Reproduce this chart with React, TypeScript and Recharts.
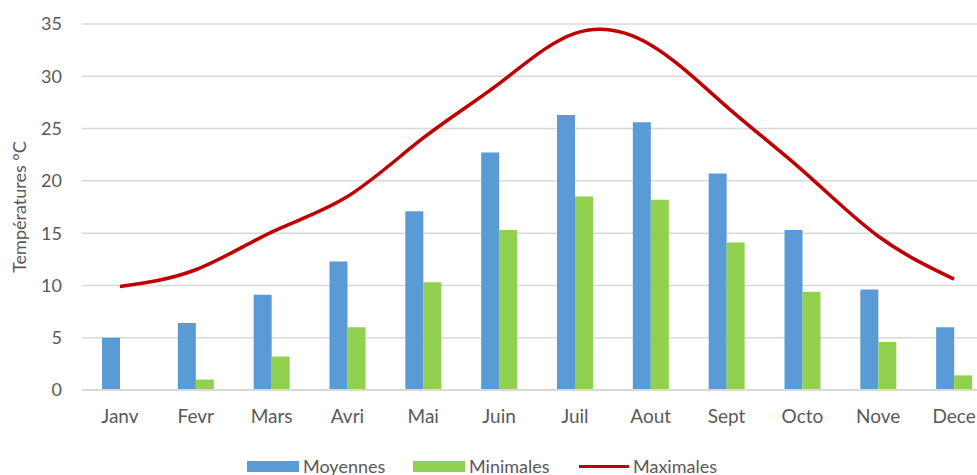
import {
  ComposedChart,
  Bar,
  Line,
  XAxis,
  YAxis,
  CartesianGrid,
  Legend
} from 'recharts'

const months = ['Janv', 'Fevr', 'Mars', 'Avri', 'Mai', 'Juin', 'Juil', 'Aout', 'Sept', 'Octo', 'Nove', 'Dece']
const moyennes = [5.0, 6.4, 9.1, 12.3, 17.1, 22.7, 26.3, 25.6, 20.7, 15.3, 9.6, 6.0]
const minimales = [0, 1.0, 3.2, 6.0, 10.3, 15.3, 18.5, 18.2, 14.1, 9.4, 4.6, 1.4]
const maximales = [9.9, 11.5, 15.1, 18.5, 24.1, 29.3, 34.1, 33.0, 27.1, 21.0, 14.7, 10.6]
const yTicks = [0, 5, 10, 15, 20, 25, 30, 35]

const FONT = 'Lato, "Liberation Sans", sans-serif'
const TEXT = '#595959'

const data = months.map((m, i) => ({
  month: m,
  moy: moyennes[i],
  min: minimales[i],
  max: maximales[i]
}))

const legendItems = [
  { label: 'Moyennes', color: '#5b9bd5', kind: 'rect' },
  { label: 'Minimales', color: '#92d050', kind: 'rect' },
  { label: 'Maximales', color: '#c00000', kind: 'line' }
]

function ChartLegend() {
  return (
    <div style={{ display: 'flex', paddingTop: 35, fontFamily: FONT, fontSize: 18, color: TEXT }}>
      {legendItems.map(item => (
        <div key={item.label} style={{ display: 'flex', alignItems: 'center', width: 166 }}>
          <span
            style={{
              display: 'inline-block',
              width: item.kind === 'rect' ? 52 : 50,
              height: item.kind === 'rect' ? 11 : 3,
              background: item.color,
              marginRight: 4
            }}
          />
          <span>{item.label}</span>
        </div>
      ))}
    </div>
  )
}

export default function App() {
  return (
    <div style={{ position: 'absolute', left: 0, top: 0, width: 977, height: 475, overflow: 'hidden', background: '#fff' }}>
      <ComposedChart
        width={1000}
        height={490}
        data={data}
        margin={{ top: 24, right: 8, left: 0, bottom: 10 }}
        barGap={0}
      >
        <CartesianGrid vertical={false} stroke="#d9d9d9" strokeWidth={1.5} />
        <XAxis
          dataKey="month"
          height={30}
          axisLine={{ stroke: '#d9d9d9', strokeWidth: 2 }}
          tickLine={false}
          tickSize={0}
          tickMargin={20}
          tick={{ fill: TEXT, fontSize: 19, fontFamily: FONT }}
          interval={0}
        />
        <YAxis
          width={82}
          domain={[0, 35]}
          ticks={yTicks}
          axisLine={false}
          tickLine={false}
          tickSize={0}
          tickMargin={20}
          tick={{ fill: TEXT, fontSize: 18, fontFamily: FONT }}
          label={{
            value: 'Températures °C',
            angle: -90,
            position: 'center',
            dx: -21,
            style: { fill: TEXT, fontSize: 18, fontFamily: FONT }
          }}
        />
        <Legend
          verticalAlign="bottom"
          height={60}
          wrapperStyle={{ left: 247, width: 'auto' }}
          content={() => <ChartLegend />}
        />
        <Bar dataKey="moy" name="Moyennes" fill="#5b9bd5" barSize={18} isAnimationActive={false} />
        <Bar dataKey="min" name="Minimales" fill="#92d050" barSize={18} isAnimationActive={false} />
        <Line
          dataKey="max"
          name="Maximales"
          type="natural"
          stroke="#c00000"
          strokeWidth={3.5}
          dot={false}
          activeDot={false}
          isAnimationActive={false}
        />
      </ComposedChart>
    </div>
  )
}
